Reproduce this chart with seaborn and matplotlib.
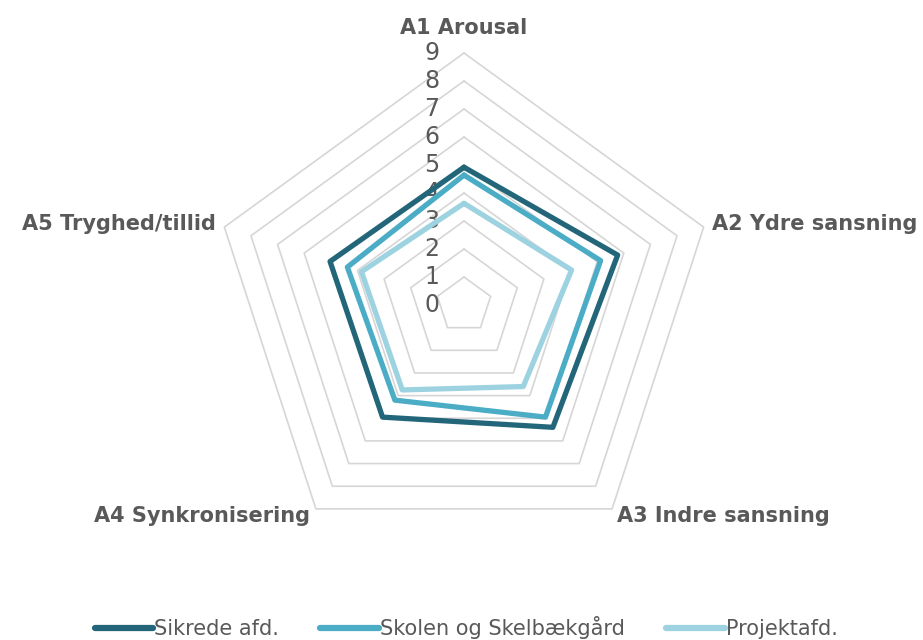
import numpy as np
import pandas as pd
import matplotlib
matplotlib.use("Agg")
import matplotlib.pyplot as plt
import seaborn as sns

# Radar chart data
categories = ["A1 Arousal", "A2 Ydre sansning", "A3 Indre sansning",
              "A4 Synkronisering", "A5 Tryghed/tillid"]
sikrede = [4.92, 5.77, 5.40, 4.95, 5.03]
skolen = [4.64, 5.13, 4.95, 4.20, 4.38]
projekt = [3.63, 4.04, 3.60, 3.75, 3.85]
series_names = ["Sikrede afd.", "Skolen og Skelbækgård", "Projektafd."]
series_values = [sikrede, skolen, projekt]
series_colors = ["#23667A", "#4BACC6", "#9DD3E0"]
ticks = list(range(0, 10))

sns.set_theme(style="white")
plt.rcParams["font.family"] = ["DejaVu Sans"]
text_color = "#595959"

W, H = 923, 640
cx, cy = 464, 305      # centre of the web, pixels from top-left
unit = 28.0            # pixels per scale unit

fig = plt.figure(figsize=(W / 100, H / 100), dpi=100)
ax = fig.add_axes([0, 0, 1, 1])
ax.axis("off")

n = len(categories)
angles = np.deg2rad(90 - 72 * np.arange(n))
closed = np.append(angles, angles[0])

# pentagon grid
for level in ticks[1:]:
    ax.plot(level * np.cos(closed), level * np.sin(closed),
            color="#D6D6D6", lw=1.2, zorder=1)

# series polygons
rows = []
for name, vals in zip(series_names, series_values):
    v = np.append(vals, vals[0])
    for i, (a, r) in enumerate(zip(closed, v)):
        rows.append({"series": name, "order": i,
                     "x": r * np.cos(a), "y": r * np.sin(a)})
df = pd.DataFrame(rows)

sns.lineplot(data=df, x="x", y="y", hue="series", hue_order=series_names,
             palette=series_colors, sort=False, estimator=None,
             linewidth=3.8, ax=ax, zorder=3)
for line in ax.get_lines()[-3:]:
    line.set_solid_joinstyle("miter")
    line.set_solid_capstyle("butt")
ax.set_xlim(-cx / unit, (W - cx) / unit)
ax.set_ylim(-(H - cy) / unit, cy / unit)
ax.set_xlabel("")
ax.set_ylabel("")

# radial tick labels
for t in ticks:
    ax.text(-1.14, t, str(t), ha="center", va="center",
            fontsize=17, color=text_color, zorder=2)

# category labels
lab_kw = dict(fontsize=15, fontweight="bold", color=text_color, va="center")
ax.text(0, (cy - 28) / unit, categories[0], ha="center", **lab_kw)
ax.text((712 - cx) / unit, (cy - 224) / unit, categories[1], ha="left", **lab_kw)
ax.text((617 - cx) / unit, (cy - 516) / unit, categories[2], ha="left", **lab_kw)
ax.text((310 - cx) / unit, (cy - 516) / unit, categories[3], ha="right", **lab_kw)
ax.text((216 - cx) / unit, (cy - 224) / unit, categories[4], ha="right", **lab_kw)

sns.move_legend(ax, "center", bbox_to_anchor=(0.505, 0.019), ncol=3,
                frameon=False, title=None, fontsize=15,
                handlelength=2.8, handletextpad=0.05, columnspacing=2.0)
leg = ax.get_legend()
for txt in leg.get_texts():
    txt.set_color(text_color)
for h in leg.legend_handles:
    h.set_linewidth(4.5)
    h.set_solid_capstyle("round")

fig.savefig("out.png", dpi=100)
